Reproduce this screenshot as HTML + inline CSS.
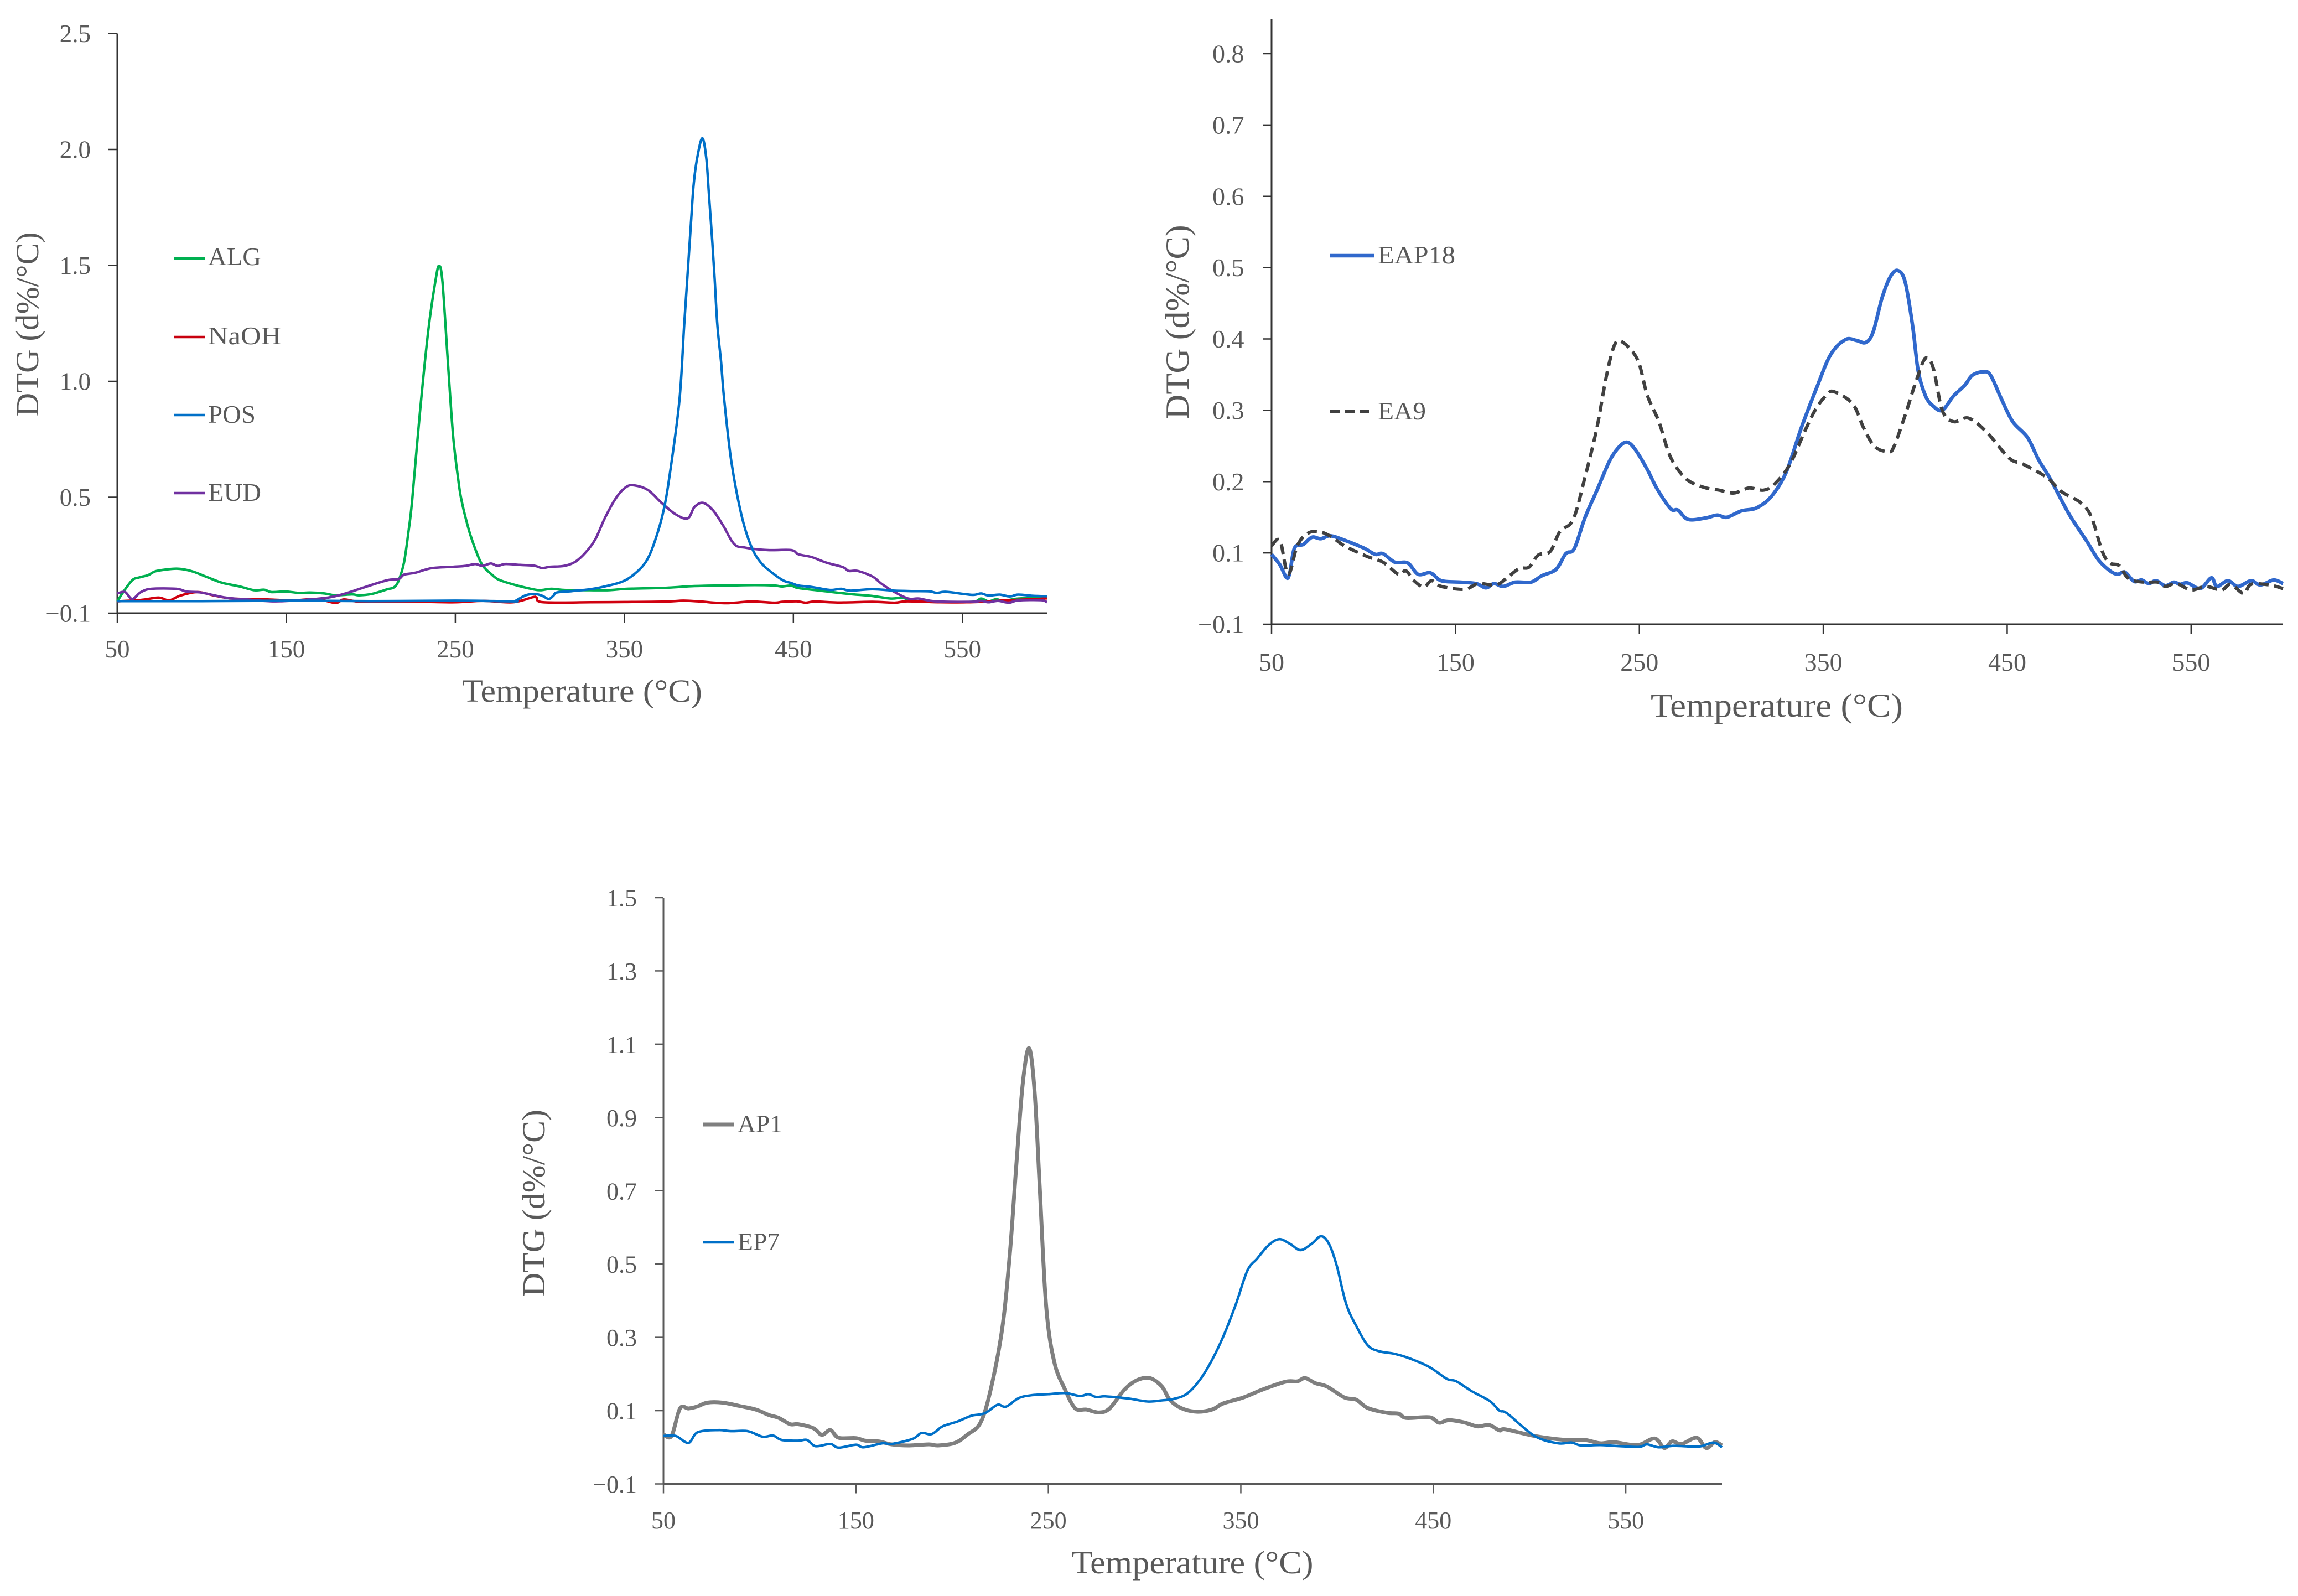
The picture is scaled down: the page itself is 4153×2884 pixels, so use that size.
<!DOCTYPE html>
<html lang="en">
<head>
<meta charset="utf-8">
<title>DTG curves</title>
<style>
html,body{margin:0;padding:0;background:#fff;width:4153px;height:2884px;overflow:hidden}
svg{display:block}
text{font-family:"Liberation Serif",serif;fill:#595959}
</style>
</head>
<body>
<svg id="figure" xmlns="http://www.w3.org/2000/svg" width="4153" height="2884" viewBox="0 0 4153 2884">
  <rect width="4153" height="2884" fill="#fff"/>

  <g id="panel-a">
    <text x="1052" y="1268" font-size="58" text-anchor="middle" textLength="434" lengthAdjust="spacingAndGlyphs">Temperature (°C)</text>
    <text transform="translate(69,586) rotate(-90)" font-size="58" text-anchor="middle" textLength="333" lengthAdjust="spacingAndGlyphs">DTG (d%/°C)</text>
    <g>
      <line x1="314" x2="371" y1="467" y2="467" stroke="#00b050" stroke-width="4.5"/>
      <text x="376" y="479" font-size="46" textLength="96" lengthAdjust="spacingAndGlyphs">ALG</text>
      <line x1="314" x2="371" y1="609" y2="609" stroke="#c8000f" stroke-width="4.5"/>
      <text x="376" y="622" font-size="46" textLength="132" lengthAdjust="spacingAndGlyphs">NaOH</text>
      <line x1="314" x2="371" y1="750" y2="750" stroke="#0070c8" stroke-width="4.5"/>
      <text x="376" y="764" font-size="46" textLength="86" lengthAdjust="spacingAndGlyphs">POS</text>
      <line x1="314" x2="371" y1="891" y2="891" stroke="#7030a0" stroke-width="4.5"/>
      <text x="376" y="905" font-size="46" textLength="96" lengthAdjust="spacingAndGlyphs">EUD</text>
    </g>
  </g>

  <g id="panel-b">
    <text x="3211" y="1295" font-size="60" text-anchor="middle" textLength="456" lengthAdjust="spacingAndGlyphs">Temperature (°C)</text>
    <text transform="translate(2148,582) rotate(-90)" font-size="60" text-anchor="middle" textLength="351" lengthAdjust="spacingAndGlyphs">DTG (d%/°C)</text>
    <g>
      <line x1="2404" x2="2484" y1="462" y2="462" stroke="#3068cc" stroke-width="6.5"/>
      <text x="2490" y="476" font-size="46" textLength="140" lengthAdjust="spacingAndGlyphs">EAP18</text>
      <line x1="2404" x2="2474" y1="743" y2="743" stroke="#404040" stroke-width="6" stroke-dasharray="18 9"/>
      <text x="2490" y="758" font-size="46" textLength="87" lengthAdjust="spacingAndGlyphs">EA9</text>
    </g>
  </g>

  <g id="panel-c">
    <text x="2155" y="2843" font-size="58" text-anchor="middle" textLength="437" lengthAdjust="spacingAndGlyphs">Temperature (°C)</text>
    <text transform="translate(984,2174) rotate(-90)" font-size="58" text-anchor="middle" textLength="338" lengthAdjust="spacingAndGlyphs">DTG (d%/°C)</text>
    <g>
      <line x1="1270" x2="1326" y1="2032" y2="2032" stroke="#7f7f7f" stroke-width="7"/>
      <text x="1333" y="2046" font-size="46" textLength="81" lengthAdjust="spacingAndGlyphs">AP1</text>
      <line x1="1270" x2="1326" y1="2245" y2="2245" stroke="#0070c8" stroke-width="4.5"/>
      <text x="1333" y="2259" font-size="46" textLength="76" lengthAdjust="spacingAndGlyphs">EP7</text>
    </g>
  </g>
</svg>
<script>
// ---------- shared axis data ----------
const xTickValues = [50, 150, 250, 350, 450, 550];

// ---------- panel A data ----------
const panelAYTickValues = [0, 0.5, 1.0, 1.5, 2.0, 2.5];
const panelAYTickLabels = ["\u22120.1", "0.5", "1.0", "1.5", "2.0", "2.5"];
const algT = [50,53.5,58.8,62.9,68.2,72.3,78.6,84.9,90,95.3,
  103.7,112,122.4,130.8,137,141,149.6,158,164,172.5,
  179,189,193,200.7,209.8,213.6,216.3,219.6,222.3,224.5,
  229,234,238.3,240.4,242.4,245.6,248.7,251.9,253.4,255.6,
  258.9,263.2,266.5,271,275.2,281.8,288.3,295.9,300.3,306.9,
  314.5,329.7,340.7,351.6,373.4,391.5,409,427,438.9,443.3,
  448.7,453,466,482.6,495.7,507.7,514.3,519.7,531.7,555.6,
  561,565.5,570,574.4,583,600];
const algV = [.051,.091,.142,.154,.164,.18,.188,.192,.188,.178,
  .154,.131,.115,.099,.101,.091,.093,.087,.089,.085,
  .077,.081,.077,.083,.103,.111,.138,.218,.353,.49,
  .863,1.219,1.437,1.498,1.427,1.08,.764,.566,.496,.425,
  .337,.25,.202,.17,.146,.129,.116,.103,.099,.105,
  .1,.099,.099,.105,.109,.117,.119,.121,.119,.115,
  .119,.108,.097,.083,.075,.063,.067,.055,.049,.049,
  .063,.051,.06,.053,.063,.068];
const naohT = [50,64,74.4,80.7,87,97.4,107.8,118,130.8,139,
  153.8,168,179,184,193.4,210,231,250,266.5,284,
  295.9,298,302,330,350,375,385,395,410,425,
  438.9,443.3,452,457.3,462.8,477.8,496.7,509.8,517.4,537,
  552.3,561.9,570,581,591.6,600];
const naohV = [.051,.057,.067,.055,.075,.091,.075,.063,.061,.059,
  .055,.061,.044,.059,.049,.049,.049,.047,.053,.047,
  .069,.067,.047,.047,.048,.05,.054,.05,.043,.05,
  .045,.049,.051,.045,.05,.046,.049,.045,.051,.047,
  .047,.049,.053,.057,.06,.064];
const posT = [50,100,150,200,250,284,286,291.6,297,301.4,
  305.2,308,310,318.8,329.7,338.4,348,354.8,362.4,367.8,
  373.4,377.6,382.7,385.4,387.6,389.4,390.9,393,396.1,398.5,
  400.1,401.8,403.4,405,407.2,409,413.3,419.2,425,431,
  438.9,444.3,448.7,453,460.8,471.6,478.2,483.6,496.7,509.8,
  520.7,530.5,534.9,540.4,555.6,561,565.5,572,578,583,
  591.6,600];
const posV = [.052,.052,.054,.052,.054,.051,.055,.077,.083,.075,
  .061,.075,.089,.095,.103,.115,.134,.162,.218,.305,
  .449,.636,.926,1.244,1.483,1.682,1.841,1.96,2.048,1.96,
  1.8,1.626,1.444,1.244,1.085,.926,.654,.426,.289,.216,
  .166,.14,.13,.119,.113,.1,.105,.097,.103,.097,
  .095,.094,.087,.092,.079,.085,.076,.08,.072,.08,
  .075,.073];
const eudT = [50,54.6,58.8,64,70.3,84.9,91,99.5,114,126.6,
  143,160,174.6,185,197.6,209.7,216.6,219.6,226.1,236,
  248.7,256.3,261.8,266,271,275,279.5,288.3,297,301.4,
  305.8,314.5,321,327.6,333,338.4,345,351,356,364,
  372,380.4,387.5,391.5,396.5,402.4,408.3,415,422,435,
  448.7,453,460.8,469.5,479.4,482.7,488,496.8,502.3,508.9,
  517.9,524.3,534.2,555.6,561,565.5,571,577.5,583,596.6,
  600];
const eudV = [.085,.091,.061,.091,.105,.105,.093,.089,.067,.059,
  .051,.057,.067,.085,.115,.142,.148,.166,.174,.194,
  .2,.204,.212,.204,.214,.204,.212,.208,.204,.194,
  .2,.204,.222,.266,.321,.409,.496,.544,.551,.531,
  .476,.426,.409,.458,.476,.444,.38,.298,.282,.272,
  .272,.254,.242,.218,.198,.182,.182,.158,.126,.095,
  .063,.063,.051,.049,.053,.047,.053,.045,.055,.056,
  .047];

// ---------- panel B data ----------
const panelBYTickValues = [0, 0.1, 0.2, 0.3, 0.4, 0.5, 0.6, 0.7, 0.8];
const panelBYTickLabels = ["\u22120.1", "0.1", "0.2", "0.3", "0.4", "0.5", "0.6", "0.7", "0.8"];
const eap18T = [50,54.6,58.2,60,62.5,67.3,72,76.8,82,89.5,100,106.4,110.6,117,124,129.7,136.4,142.3,152.9,161.3,166.6,170.9,176,182.5,191,197,204.7,210,214.6,220.5,226.8,234,239.5,243.7,248,254.3,259.6,267,271,276.5,286,292.3,297.6,305.5,313.6,321.7,329.8,338,346,354,362,368,373,377,382,386.4,390.5,394.5,398.6,401.6,405.6,409.7,414.7,420.8,426.9,431,437,441,447,453,461,467,473.4,483.5,493.6,499.7,505.8,510,514,519,523,527,531,536,540.6,544,548,555,561,564,570,575.5,582.6,587.7,594.8,600];
const eap18V = [.098,.083,.065,.073,.107,.112,.122,.12,.124,.118,.107,.098,.099,.087,.086,.07,.072,.061,.059,.057,.051,.057,.053,.059,.059,.068,.077,.099,.106,.15,.187,.23,.25,.255,.244,.217,.19,.162,.16,.147,.149,.153,.15,.159,.163,.179,.213,.275,.329,.378,.399,.398,.395,.409,.458,.487,.496,.48,.418,.355,.32,.306,.3,.32,.335,.349,.354,.349,.315,.284,.262,.231,.204,.155,.115,.09,.075,.07,.073,.06,.062,.057,.061,.054,.059,.056,.058,.05,.065,.053,.061,.053,.061,.055,.062,.057];
const ea9T = [50,54.6,59,64,69.4,75.8,83,89.5,102,110.6,119,123,127.5,132.8,137,142.3,155,162.4,172,178,184.6,190,195,201.5,206.8,214,220.5,226.8,232,236.4,240.6,249,254.3,260.6,267,275.4,285,293.4,301.4,309.5,317.6,323.7,331.8,340,346,352,356,366,372,378,385.4,388.4,394.5,400.6,405.6,409.7,414.7,420.8,429,439,451,459,471.4,479.5,489.6,495.7,501.7,505.8,511,516,524,532,536,542,550,558,566.5,571.5,578.6,582.6,592.8,600];
const ea9V = [.11,.117,.07,.11,.127,.13,.122,.11,.095,.087,.07,.075,.061,.052,.061,.053,.049,.057,.055,.065,.078,.08,.097,.102,.13,.147,.207,.274,.347,.391,.396,.371,.321,.284,.234,.204,.192,.188,.184,.191,.188,.197,.224,.271,.302,.322,.326,.309,.275,.249,.242,.249,.293,.342,.373,.36,.3,.284,.289,.269,.233,.224,.206,.186,.171,.151,.102,.086,.082,.064,.059,.059,.053,.057,.048,.053,.048,.056,.043,.056,.055,.05];

// ---------- panel C data ----------
const panelCYTickValues = [-0.1, 0.1, 0.3, 0.5, 0.7, 0.9, 1.1, 1.3, 1.5];
const panelCYTickLabels = ["\u22120.1", "0.1", "0.3", "0.5", "0.7", "0.9", "1.1", "1.3", "1.5"];
const ap1T = [50,54.2,58.6,63,67.4,72.9,80.6,89.4,98,104.8,110,115.8,120,127.9,132.3,136.7,141,150,155,162,168.5,177.3,188,192.7,201.5,208,214.7,220,226,230,233.4,236.7,240,242.9,245.5,248.8,253,258.7,264,269.7,276.3,281.8,289.5,296,302.7,309,313,319,327,335,341,351.4,361.5,373.4,379.4,383.4,388.7,394.7,403.8,409.9,416,426,432,436,448,453,458,466,473,479,484.4,487.5,502.6,518.7,528.7,536.8,543.9,556,565,570,574,579,586.8,591.8,596.3,600];
const ap1V = [.035,.031,.106,.106,.111,.122,.122,.113,.103,.088,.08,.063,.063,.052,.034,.047,.026,.025,.018,.016,.008,.005,.008,.005,.012,.035,.067,.157,.324,.53,.774,.993,1.089,.967,.71,.388,.234,.157,.106,.103,.095,.106,.157,.183,.189,.166,.13,.107,.097,.103,.12,.136,.158,.179,.18,.189,.175,.166,.136,.13,.107,.094,.092,.08,.082,.067,.074,.068,.057,.061,.046,.049,.031,.02,.02,.011,.014,.006,.024,-.002,.016,.009,.026,-.002,.014,.005];
const ep7T = [50,56.4,63,67.8,78.4,85,93.8,101.5,107,111.4,120,124.6,129,136.7,141,150,154,164,168.5,179.5,184,189.4,195,202.6,210,217,223.5,228,234.5,241,250,258.7,266.4,270.8,275,279.6,291.7,301.6,309,315,322,329,335,341,347.4,353.4,358.5,364.5,370,375.6,381,386.7,391.7,395.8,399.8,404.8,410,416,422,430,438,448,457,462,470,479.4,484.4,488.5,502.6,514.7,521.8,526.8,536.8,546.9,557,561,567,575,588,595.4,600];
const ep7V = [.031,.031,.012,.041,.047,.044,.044,.029,.032,.02,.018,.02,.003,.009,-.001,.007,0,.011,.009,.023,.039,.036,.057,.07,.086,.093,.116,.111,.134,.142,.145,.148,.14,.145,.137,.139,.133,.125,.128,.132,.146,.186,.238,.304,.39,.482,.515,.552,.568,.555,.538,.555,.576,.555,.496,.39,.331,.278,.262,.255,.242,.219,.187,.18,.153,.126,.1,.092,.031,.011,.013,.005,.006,.003,.001,.008,0,.004,.002,.013,0];

// ---------- drawing ----------
const SVG_NS = "http://www.w3.org/2000/svg";

function linearScale(d0, d1, r0, r1) {
  return function (v) { return r0 + (v - d0) * (r1 - r0) / (d1 - d0); };
}

function curvePath(ts, vs, xf, yf) {
  const pts = ts.map(function (t, i) { return [xf(t), yf(vs[i])]; });
  let d = "M" + pts[0][0].toFixed(1) + " " + pts[0][1].toFixed(1);
  for (let i = 0; i < pts.length - 1; i++) {
    const p0 = pts[Math.max(i - 1, 0)];
    const p1 = pts[i];
    const p2 = pts[i + 1];
    const p3 = pts[Math.min(i + 2, pts.length - 1)];
    const c1x = p1[0] + (p2[0] - p0[0]) / 6;
    const c1y = p1[1] + (p2[1] - p0[1]) / 6;
    const c2x = p2[0] - (p3[0] - p1[0]) / 6;
    const c2y = p2[1] - (p3[1] - p1[1]) / 6;
    d += "C" + c1x.toFixed(1) + " " + c1y.toFixed(1) + " " + c2x.toFixed(1) + " " + c2y.toFixed(1) + " " + p2[0].toFixed(1) + " " + p2[1].toFixed(1);
  }
  return d;
}

function drawLine(g, x1, y1, x2, y2, color, width) {
  const el = document.createElementNS(SVG_NS, "line");
  el.setAttribute("x1", x1);
  el.setAttribute("y1", y1);
  el.setAttribute("x2", x2);
  el.setAttribute("y2", y2);
  el.setAttribute("stroke", color);
  el.setAttribute("stroke-width", width);
  g.appendChild(el);
  return el;
}

function drawLabel(g, x, y, str, size, anchor) {
  const el = document.createElementNS(SVG_NS, "text");
  el.setAttribute("x", x);
  el.setAttribute("y", y);
  el.setAttribute("font-size", size);
  el.setAttribute("text-anchor", anchor);
  el.textContent = str;
  g.appendChild(el);
  return el;
}

function drawPanel(cfg) {
  const g = document.getElementById(cfg.id);
  const xf = linearScale(50, 600, cfg.x0, cfg.x1);
  const yf = linearScale(cfg.yv0, cfg.yv1, cfg.y0, cfg.y1);

  const xAxis = drawLine(g, cfg.x0, cfg.y0, xf(600), cfg.y0, cfg.axisColor, cfg.xAxisWidth);
  
  
  const yAxis = drawLine(g, cfg.x0, cfg.y0, cfg.x0, cfg.yTop, cfg.axisColor, cfg.yAxisWidth);
  
  

  xTickValues.forEach(function (t) {
    const tick = drawLine(g, xf(t), cfg.y0, xf(t), cfg.y0 + 17, cfg.axisColor, 2.5);
    
    
    const lab = drawLabel(g, xf(t), cfg.xLabelY, String(t), cfg.tickFont, "middle");
    
    
  });

  cfg.yTicks.forEach(function (v, i) {
    const tick = drawLine(g, cfg.x0 - 16, yf(v), cfg.x0, yf(v), cfg.axisColor, 2.5);
    
    
    const lab = drawLabel(g, cfg.yLabelX, yf(v) + 15.5, cfg.yLabels[i], cfg.tickFont, "end");
    
    
  });

  cfg.series.forEach(function (s) {
    const path = document.createElementNS(SVG_NS, "path");
    path.setAttribute("d", curvePath(s.t, s.v, xf, yf));
    path.setAttribute("fill", "none");
    path.setAttribute("stroke", s.color);
    path.setAttribute("stroke-width", s.width);
    path.setAttribute("stroke-linejoin", "round");
    if (s.dash) path.setAttribute("stroke-dasharray", s.dash);
    
    
    g.appendChild(path);
  });
}

drawPanel({
  id: "panel-a", x0: 212, x1: 1892, y0: 1108, y1: 60.5, yv0: 0, yv1: 2.5, yTop: 60.5,
  axisColor: "#333", xAxisWidth: 3, yAxisWidth: 3, xLabelY: 1188, yLabelX: 164, tickFont: 45,
  yTicks: panelAYTickValues, yLabels: panelAYTickLabels,
  series: [
    { name: "series-alg", t: algT, v: algV, color: "#00b050", width: 4.5 },
    { name: "series-naoh", t: naohT, v: naohV, color: "#d0000f", width: 4.5 },
    { name: "series-eud", t: eudT, v: eudV, color: "#7030a0", width: 4.5 },
    { name: "series-pos", t: posT, v: posV, color: "#0070c8", width: 4.5 }
  ]
});

drawPanel({
  id: "panel-b", x0: 2298, x1: 4126, y0: 1128, y1: 97, yv0: 0, yv1: 0.8, yTop: 34,
  axisColor: "#333", xAxisWidth: 3, yAxisWidth: 3, xLabelY: 1212, yLabelX: 2248.5, tickFont: 46,
  yTicks: panelBYTickValues, yLabels: panelBYTickLabels,
  series: [
    { name: "series-eap18", t: eap18T, v: eap18V, color: "#3068cc", width: 6.5 },
    { name: "series-ea9", t: ea9T, v: ea9V, color: "#404040", width: 6, dash: "18 10" }
  ]
});

drawPanel({
  id: "panel-c", x0: 1199, x1: 3112, y0: 2681.5, y1: 1622, yv0: -0.1, yv1: 1.5, yTop: 1622,
  axisColor: "#595959", xAxisWidth: 4, yAxisWidth: 3, xLabelY: 2762, yLabelX: 1151, tickFont: 44,
  yTicks: panelCYTickValues, yLabels: panelCYTickLabels,
  series: [
    { name: "series-ap1", t: ap1T, v: ap1V, color: "#7f7f7f", width: 7 },
    { name: "series-ep7", t: ep7T, v: ep7V, color: "#0070c8", width: 4.5 }
  ]
});
</script>
</body>
</html>
